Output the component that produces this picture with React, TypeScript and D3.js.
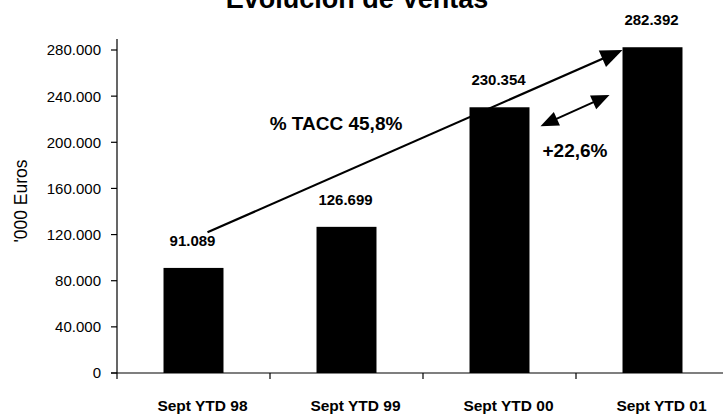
import React from "react";
import * as d3 from "d3";

const categories = ["Sept YTD 98", "Sept YTD 99", "Sept YTD 00", "Sept YTD 01"];
const ventas = [91089, 126699, 230354, 282392];
const valueLabels = ["91.089", "126.699", "230.354", "282.392"];
const yTicks = [0, 40000, 80000, 120000, 160000, 200000, 240000, 280000];
const yTickLabels = ["0", "40.000", "80.000", "120.000", "160.000", "200.000", "240.000", "280.000"];
const title = "Evolución de Ventas";
const yTitle = "'000 Euros";
const taccLabel = "% TACC 45,8%";
const growthLabel = "+22,6%";
// annotation anchors in data space
const taccArrow = { fromValue: 122000, toValue: 280000 };
const growthArrow = { fromValue: 214000, toValue: 241000 };

const W = 723;
const H = 420;
const FONT = "'Liberation Sans', Arial, Helvetica, sans-serif";

export default function App() {
  const x = d3
    .scaleBand<string>()
    .domain(categories)
    .range([117, 729])
    .paddingInner(0.608)
    .paddingOuter(0.304);
  const y = d3.scaleLinear().domain([0, 280000]).range([373, 50]);
  const bw = x.bandwidth();
  const step = x.step();
  const boundaries = categories.slice(1).map((c) => (x(c) as number) - (step - bw) / 2);

  const cx = (i: number) => (x(categories[i]) as number) + bw / 2;

  // long arrow
  const a1 = { x1: cx(0) + 14, y1: y(taccArrow.fromValue), x2: x(categories[3]) as number, y2: y(taccArrow.toValue) };
  // double arrow
  const a2 = {
    x1: (x(categories[2]) as number) + bw + 11,
    y1: y(growthArrow.fromValue),
    x2: (x(categories[3]) as number) - 13,
    y2: y(growthArrow.toValue),
  };

  const head = (tx: number, ty: number, fx: number, fy: number, len: number, half: number) => {
    const ang = Math.atan2(ty - fy, tx - fx);
    const bx = tx - len * Math.cos(ang);
    const by = ty - len * Math.sin(ang);
    const px = -Math.sin(ang) * half;
    const py = Math.cos(ang) * half;
    return `${tx},${ty} ${bx + px},${by + py} ${bx - px},${by - py}`;
  };
  const shorten = (tx: number, ty: number, fx: number, fy: number, d: number) => {
    const ang = Math.atan2(ty - fy, tx - fx);
    return [tx - d * Math.cos(ang), ty - d * Math.sin(ang)];
  };
  const [l1x, l1y] = shorten(a1.x2, a1.y2, a1.x1, a1.y1, 15);
  const [l2ax, l2ay] = shorten(a2.x1, a2.y1, a2.x2, a2.y2, 12);
  const [l2bx, l2by] = shorten(a2.x2, a2.y2, a2.x1, a2.y1, 12);

  return (
    <svg
      width={W}
      height={H}
      style={{ position: "absolute", left: 0, top: 0, background: "#fff" }}
      fontFamily={FONT}
    >
      <rect x={0} y={0} width={W} height={H} fill="#fff" />
      <text x={357} y={8} textAnchor="middle" fontSize={27} fontWeight="bold" fill="#000">
        {title}
      </text>

      {/* y axis */}
      <line x1={117} x2={117} y1={39} y2={379} stroke="#000" strokeWidth={1.2} />
      {yTicks.map((t, i) => (
        <g key={t}>
          <line x1={111} x2={117} y1={y(t)} y2={y(t)} stroke="#000" strokeWidth={1.2} />
          <text x={101} y={y(t)} dy="0.36em" textAnchor="end" fontSize={15} fill="#000">
            {yTickLabels[i]}
          </text>
        </g>
      ))}
      <text
        transform={`translate(27,201) rotate(-90)`}
        textAnchor="middle"
        fontSize={17.5}
        fill="#000"
      >
        {yTitle}
      </text>

      {/* x axis */}
      <line x1={111} x2={723} y1={373} y2={373} stroke="#000" strokeWidth={1.2} />
      {boundaries.map((b) => (
        <line key={b} x1={b} x2={b} y1={373} y2={379} stroke="#000" strokeWidth={1.2} />
      ))}

      {/* bars */}
      {ventas.map((v, i) => (
        <rect
          key={categories[i]}
          x={x(categories[i]) as number}
          y={y(v)}
          width={bw}
          height={y(0) - y(v)}
          fill="#000"
        />
      ))}

      {/* value labels */}
      {ventas.map((v, i) => (
        <text
          key={"v" + i}
          x={cx(i) - 1}
          y={y(v) - 22}
          textAnchor="middle"
          fontSize={15}
          fontWeight="bold"
          fill="#000"
        >
          {valueLabels[i]}
        </text>
      ))}

      {/* category labels */}
      {categories.map((c, i) => (
        <text key={c} x={cx(i) + 9} y={411} textAnchor="middle" fontSize={15.5} fontWeight="bold" fill="#000">
          {c}
        </text>
      ))}

      {/* TACC arrow */}
      <line x1={a1.x1} y1={a1.y1} x2={l1x} y2={l1y} stroke="#000" strokeWidth={2.2} />
      <polygon points={head(a1.x2, a1.y2, a1.x1, a1.y1, 22, 9)} fill="#000" />
      <text x={336} y={130} textAnchor="middle" fontSize={19} fontWeight="bold" fill="#000">
        {taccLabel}
      </text>

      {/* growth arrow */}
      <line x1={l2ax} y1={l2ay} x2={l2bx} y2={l2by} stroke="#000" strokeWidth={2} />
      <polygon points={head(a2.x1, a2.y1, a2.x2, a2.y2, 18, 7.5)} fill="#000" />
      <polygon points={head(a2.x2, a2.y2, a2.x1, a2.y1, 18, 7.5)} fill="#000" />
      <text x={575} y={157} textAnchor="middle" fontSize={19} fontWeight="bold" fill="#000">
        {growthLabel}
      </text>
    </svg>
  );
}
